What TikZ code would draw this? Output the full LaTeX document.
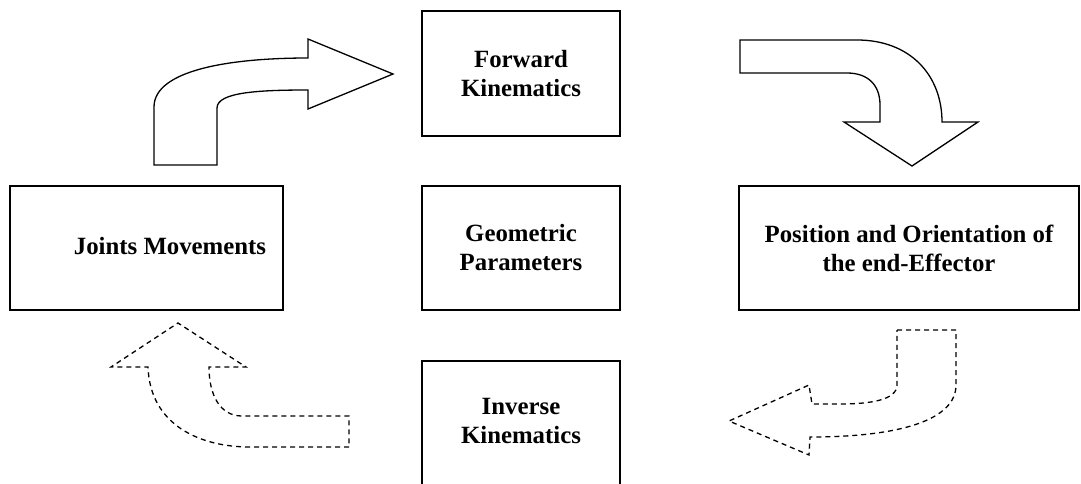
\documentclass[tikz,border=0pt]{standalone}
\usepackage{fontspec}
\setmainfont{Liberation Serif}
\begin{document}
\begin{tikzpicture}[x=1pt,y=-1pt,
  txt/.style={font=\fontsize{24.8}{29}\selectfont\bfseries,align=center,inner sep=0pt},
  box/.style={draw,line width=1.8pt,minimum height=124pt,inner sep=0pt,txt},
  blockarrow/.style={draw,line width=1.3pt,line join=miter},
  dasharrow/.style={draw,line width=1.3pt,dash pattern=on 5pt off 4pt}]
\useasboundingbox (0,0) rectangle (1081,483);
\clip (0,0) rectangle (1081,483);
% boxes
\node[box,minimum width=198pt,minimum height=125pt] (fk) at (521,73.5) {Forward\\Kinematics};
\node[box,minimum width=198pt] (gp) at (521,248) {Geometric\\Parameters};
\node[box,minimum width=273pt] (jm) at (146.5,248) {};
\node[txt] (jmtext) at (170,246) {Joints Movements};
\node[box,minimum width=340pt] (po) at (909,248) {Position and Orientation of\\the end-Effector};
\node[box,minimum width=198pt,minimum height=180pt] (ik) at (521,451) {};
\node[txt] (iktext) at (521,421) {Inverse\\Kinematics};
% top-left solid arrow
\path[blockarrow] (154,165) -- (154,107) .. controls (154,70) and (230,58) .. (308,58)
  -- (308,39) -- (393,74) -- (308,109) -- (308,90)
  .. controls (260,90) and (217,92) .. (217,108) -- (217,165) -- cycle;
% top-right solid arrow
\path[blockarrow] (740,40) -- (857,40) .. controls (910,40) and (942,75) .. (942,122)
  -- (978,122) -- (912,166) -- (844,122) -- (880,122) -- (880,105)
  .. controls (880,85) and (868,73) .. (847,73) -- (740,73) -- cycle;
% bottom-left dashed arrow
\path[dasharrow] (349,447) -- (250,447) .. controls (200,447) and (150,425) .. (148,367)
  -- (111,367) -- (178,323) -- (246,367) -- (209,367)
  .. controls (209,395) and (220,416) .. (242,416) -- (349,416) -- cycle;
% bottom-right dashed arrow
\path[dasharrow] (897,330) -- (956,330) -- (956,385)
  .. controls (956,420) and (900,437) .. (810,437)
  -- (809,455) -- (729,421) -- (809,385) -- (812,404) -- (840,404)
  .. controls (870,404) and (897,400) .. (897,385) -- cycle;
\end{tikzpicture}
\end{document}
